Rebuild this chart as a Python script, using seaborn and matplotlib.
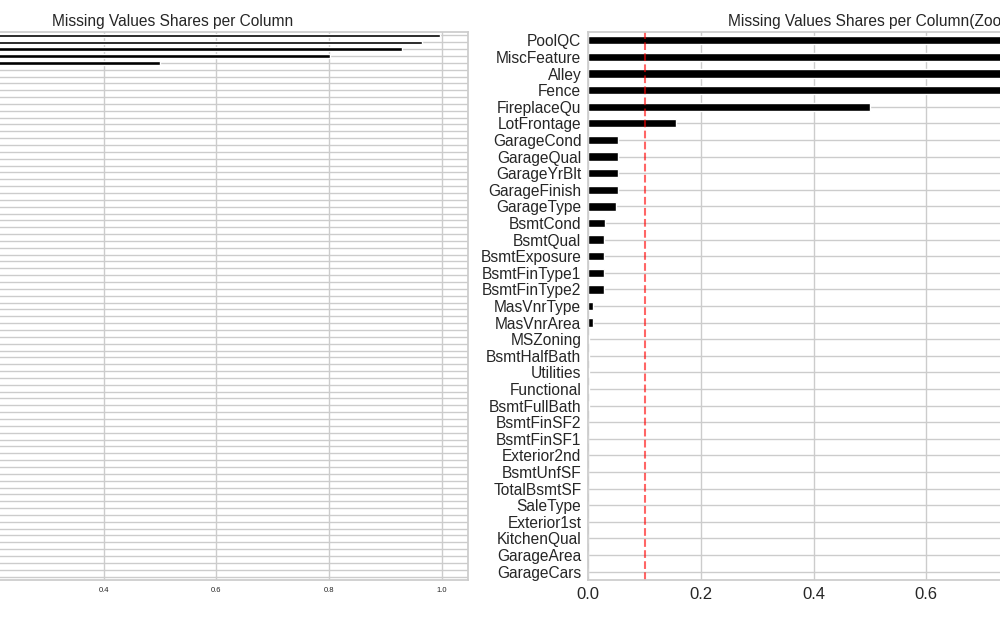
import matplotlib
matplotlib.use('Agg')
import matplotlib.pyplot as plt
import seaborn as sns
import pandas as pd

# columns with at least one missing value, share of missing rows
cols_missing=['PoolQC','MiscFeature','Alley','Fence','FireplaceQu','LotFrontage',
              'GarageCond','GarageQual','GarageYrBlt','GarageFinish','GarageType',
              'BsmtCond','BsmtQual','BsmtExposure','BsmtFinType1','BsmtFinType2',
              'MasVnrType','MasVnrArea','MSZoning','BsmtHalfBath','Utilities',
              'Functional','BsmtFullBath','BsmtFinSF2','BsmtFinSF1','Exterior2nd',
              'BsmtUnfSF','TotalBsmtSF','SaleType','Exterior1st','KitchenQual',
              'GarageArea','GarageCars']
share_missing=[0.996,0.964,0.930,0.802,0.500,0.156,
               0.052,0.052,0.052,0.052,0.050,
               0.029,0.028,0.028,0.027,0.027,
               0.009,0.008,0.0014,0.0007,0.0007,
               0.0007,0.0007,0.0003,0.0003,0.0003,
               0.0003,0.0003,0.0003,0.0003,0.0003,
               0.0003,0.0003]

# columns without missing values
cols_complete=['MSSubClass','LotArea','Street','LotShape','LandContour','LotConfig',
               'LandSlope','Neighborhood','Condition1','Condition2','BldgType',
               'HouseStyle','OverallQual','OverallCond','YearBuilt','YearRemodAdd',
               'RoofStyle','RoofMatl','ExterQual','ExterCond','Foundation','Heating',
               'HeatingQC','CentralAir','Electrical','1stFlrSF','2ndFlrSF',
               'LowQualFinSF','GrLivArea','FullBath','HalfBath','BedroomAbvGr',
               'KitchenAbvGr','TotRmsAbvGrd','Fireplaces','PavedDrive','WoodDeckSF',
               'OpenPorchSF','EnclosedPorch','3SsnPorch','ScreenPorch','PoolArea',
               'MiscVal','MoSold','YrSold','SaleCondition','SalePrice']

threshold=0.1

df_all=pd.DataFrame({'column':cols_missing+cols_complete,
                     'share':share_missing+[0.0]*len(cols_complete)})
df_zoom=df_all[df_all['share']>0]

sns.set_theme(style='whitegrid')
plt.rcParams['font.family']=['Liberation Sans','DejaVu Sans']

fig=plt.figure(figsize=(10,6.19),dpi=100)
ax1=fig.add_axes([-0.1217,0.0630,0.5894,0.8853])
ax2=fig.add_axes([0.5883,0.0630,0.570,0.8853])

# full view: the row labels sit left of the visible area, so they are left out
sns.barplot(data=df_all,y='column',x='share',color='black',saturation=1,width=0.5,ax=ax1)
ax1.set(xlabel='',ylabel='',yticklabels=[])
ax1.yaxis.grid(True)
ax1.tick_params(axis='both',labelsize=5.5,pad=5,length=0)
ax1.set_title('Missing Values Shares per Column',fontsize=11.2,pad=4)

sns.barplot(data=df_zoom,y='column',x='share',color='black',saturation=1,width=0.5,ax=ax2)
ax2.axvline(threshold,color='red',linestyle='--',alpha=0.6,lw=1.5)
ax2.set(xlabel='',ylabel='')
ax2.set_xlim(0,1.012)
ax2.yaxis.grid(True)
ax2.tick_params(axis='y',labelsize=11.2,pad=5,length=0)
ax2.tick_params(axis='x',labelsize=12,pad=5,length=0)
ax2.set_title('Missing Values Shares per Column(Zoom)',fontsize=11.2,pad=4)

fig.savefig('out.png',dpi=100)
